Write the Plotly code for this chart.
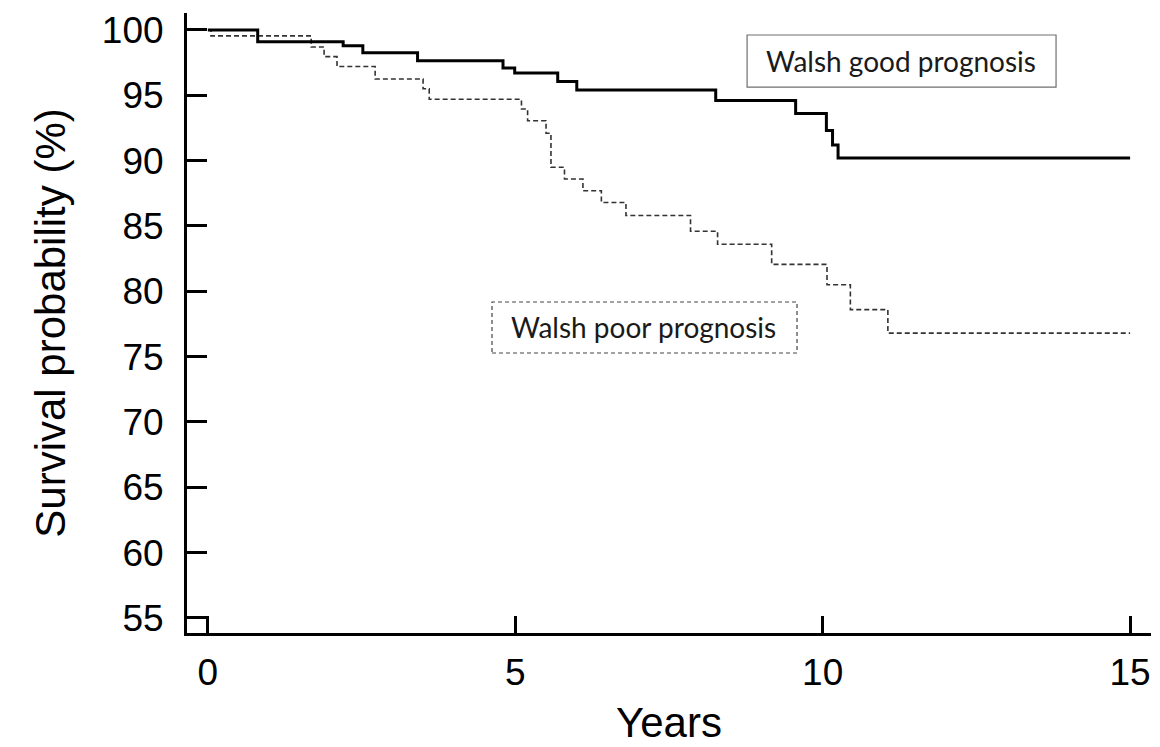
import plotly.graph_objects as go

# Kaplan-Meier style survival data (years, survival %)
good_years = [0, 0.81, 2.2, 2.52, 3.41, 4.8, 4.99, 5.69, 6.0, 8.26, 9.56, 10.06, 10.16, 10.25, 15]
good_surv = [100, 99.1, 98.8, 98.26, 97.65, 97.1, 96.7, 96.05, 95.4, 94.6, 93.6, 92.3, 91.2, 90.2, 90.2]

poor_years = [0, 0.05, 1.68, 1.89, 2.1, 2.72, 3.5, 3.6, 5.1, 5.2, 5.5, 5.58, 5.8, 6.1, 6.4, 6.8,
              7.85, 8.29, 9.17, 10.07, 10.45, 11.06, 15]
poor_surv = [100, 99.55, 98.7, 97.96, 97.2, 96.25, 95.5, 94.7, 93.95, 93.05, 92.1, 89.5, 88.6, 87.7,
             86.8, 85.8, 84.6, 83.6, 82.06, 80.5, 78.6, 76.8, 76.8]

x_ticks = [0, 5, 10, 15]
y_ticks = [55, 60, 65, 70, 75, 80, 85, 90, 95, 100]

good_label = "Walsh good prognosis"
poor_label = "Walsh poor prognosis"

fig = go.Figure()
fig.add_trace(go.Scatter(x=poor_years, y=poor_surv, mode="lines", line_shape="hv",
                         line=dict(color="#333333", width=1.6, dash="5px,3px"),
                         name=poor_label, showlegend=False))
fig.add_trace(go.Scatter(x=good_years, y=good_surv, mode="lines", line_shape="hv",
                         line=dict(color="black", width=3),
                         name=good_label, showlegend=False))

axis_font = dict(family="Liberation Sans, Arial, sans-serif", size=37, color="black")
title_font = dict(family="Liberation Sans, Arial, sans-serif", size=42, color="black")

fig.update_xaxes(range=[-0.34, 15.34], tickvals=x_ticks, ticks="inside", ticklen=17,
                 tickwidth=2.5, tickcolor="black", showline=True, linecolor="black",
                 linewidth=3, showgrid=False, zeroline=False, tickfont=axis_font,
                 ticklabelstandoff=5,
                 title=dict(text="Years", font=title_font, standoff=16))
fig.update_yaxes(range=[53.85, 101.3], tickvals=y_ticks, ticks="inside", ticklen=20,
                 tickwidth=2.5, tickcolor="black", showline=True, linecolor="black",
                 linewidth=3, showgrid=False, zeroline=False, tickfont=axis_font,
                 ticklabelstandoff=13,
                 title=dict(text="Survival probability (%)", font=title_font, standoff=24))

# legend-like labelled boxes (paper coordinates)
fig.add_shape(type="rect", xref="paper", yref="paper", x0=0.581, x1=0.9015, y0=0.8806, y1=0.9645,
              line=dict(color="#6f6f6f", width=1.2), fillcolor="white", layer="above")
fig.add_shape(type="rect", xref="paper", yref="paper", x0=0.3164, x1=0.6328, y0=0.4516, y1=0.5339,
              line=dict(color="#444444", width=1.2, dash="4px,3px"), fillcolor="white", layer="above")
label_font = dict(family="Lato, Noto Sans, sans-serif", size=28, color="#1a1a1a")
fig.add_annotation(x=0.7407, y=0.9226, xref="paper", yref="paper", text=good_label,
                   showarrow=False, font=label_font, xanchor="center", yanchor="middle")
fig.add_annotation(x=0.474, y=0.4935, xref="paper", yref="paper", text=poor_label,
                   showarrow=False, font=label_font, xanchor="center", yanchor="middle")

fig.update_layout(width=1160, height=747, autosize=False,
                  margin=dict(l=187, r=9, t=13, b=114),
                  paper_bgcolor="white", plot_bgcolor="white", showlegend=False)

fig.write_html("out.html")
